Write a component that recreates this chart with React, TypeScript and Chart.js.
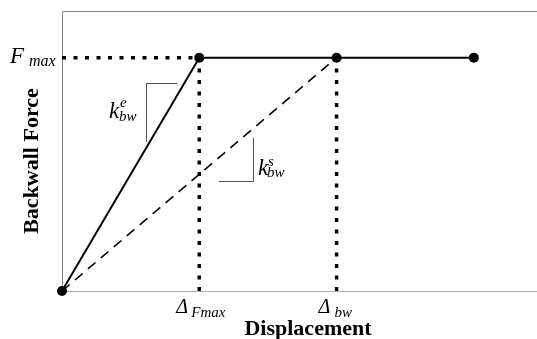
import React, { useEffect, useRef } from "react";
import { Chart, registerables } from "chart.js";

Chart.register(...registerables);

// Data (normalised: displacement in units of Δ_Fmax, force in units of F_max)
const bilinearX = [0, 1, 2, 3];
const bilinearY = [0, 1, 1, 1];
const secantX = [0, 2];
const secantY = [0, 1];
const fmaxGuideX = [0, 1];
const fmaxGuideY = [1, 1];
const dFmaxGuideX = [1, 1];
const dFmaxGuideY = [0, 1];
const dBwGuideX = [2, 2];
const dBwGuideY = [0, 1];

const xAxisTitle = "Displacement";
const yAxisTitle = "Backwall Force";

const toPts = (xs: number[], ys: number[]) => xs.map((x, i) => ({ x, y: ys[i] }));

const SERIF = '"Liberation Serif", "Times New Roman", serif';

const decorPlugin = {
  id: "decor",
  beforeDatasetsDraw(chart: any) {
    const { ctx, chartArea } = chart;
    ctx.save();
    ctx.lineWidth = 1;
    ctx.strokeStyle = "#8a8a8a";
    ctx.beginPath();
    ctx.moveTo(chartArea.left + 0.5, chartArea.bottom);
    ctx.lineTo(chartArea.left + 0.5, chartArea.top + 0.5);
    ctx.lineTo(chartArea.right, chartArea.top + 0.5);
    ctx.stroke();
    ctx.strokeStyle = "#b0b0b0";
    ctx.beginPath();
    ctx.moveTo(chartArea.left, chartArea.bottom + 0.5);
    ctx.lineTo(chartArea.right, chartArea.bottom + 0.5);
    ctx.stroke();
    ctx.restore();
  },
  afterDatasetsDraw(chart: any) {
    const { ctx, chartArea } = chart;
    const xs = chart.scales.x;
    const ys = chart.scales.y;
    const px = (v: number) => xs.getPixelForValue(v);
    const py = (v: number) => ys.getPixelForValue(v);
    ctx.save();
    // slope triangles
    ctx.strokeStyle = "#505050";
    ctx.lineWidth = 1;
    ctx.beginPath();
    ctx.moveTo(Math.round(px(0.612)) + 0.5, Math.round(py(0.64)));
    ctx.lineTo(Math.round(px(0.612)) + 0.5, Math.round(py(0.89)) + 0.5);
    ctx.lineTo(px(0.838), Math.round(py(0.89)) + 0.5);
    ctx.stroke();
    ctx.beginPath();
    ctx.moveTo(Math.round(px(1.391)) + 0.5, Math.round(py(0.656)));
    ctx.lineTo(Math.round(px(1.391)) + 0.5, Math.round(py(0.471)) + 0.5);
    ctx.lineTo(px(1.143), Math.round(py(0.471)) + 0.5);
    ctx.stroke();

    ctx.fillStyle = "#000";
    ctx.textBaseline = "alphabetic";
    ctx.textAlign = "left";
    const it = (size: number) => `italic ${size}px ${SERIF}`;

    // F_max
    const yF = py(1);
    ctx.font = it(23);
    ctx.fillText("F", 10, yF + 5);
    ctx.font = it(16);
    ctx.fillText("max", 29, yF + 8);

    // k_bw^e
    const kex = px(0.612) - 37;
    const key = py(0.64) - 24;
    ctx.font = it(23);
    ctx.fillText("k", kex, key);
    ctx.font = it(15);
    ctx.fillText("e", kex + 11, key - 11);
    ctx.fillText("bw", kex + 10, key + 3);

    // k_bw^s
    const ksx = px(1.391) + 5;
    const ksy = py(0.471) - 6;
    ctx.font = it(23);
    ctx.fillText("k", ksx, ksy);
    ctx.font = it(15);
    ctx.fillText("s", ksx + 10, ksy - 9);
    ctx.fillText("bw", ksx + 9, ksy + 2);

    // Δ labels
    const base = chartArea.bottom;
    ctx.font = it(20);
    ctx.textAlign = "left";
    ctx.fillText("Δ", px(1) - 23, base + 22);
    ctx.font = it(15);
    ctx.fillText("Fmax", px(1) - 8, base + 26);
    ctx.font = it(20);
    ctx.fillText("Δ", px(2) - 18, base + 22);
    ctx.font = it(15);
    ctx.fillText("bw", px(2) - 2, base + 26);

    // axis titles
    ctx.font = `bold 22px ${SERIF}`;
    ctx.textAlign = "center";
    ctx.textBaseline = "middle";
    ctx.fillText(xAxisTitle, 308, chartArea.bottom + 38);
    ctx.save();
    ctx.translate(32, 161);
    ctx.rotate(-Math.PI / 2);
    ctx.fillText(yAxisTitle, 0, 0);
    ctx.restore();
    ctx.restore();
  },
};

export default function App() {
  const ref = useRef<HTMLCanvasElement | null>(null);
  useEffect(() => {
    if (!ref.current) return;
    const dotted = {
      borderColor: "#000",
      borderWidth: 3.5,
      borderDash: [4, 7.5],
      borderCapStyle: "butt",
      pointRadius: 0,
      showLine: true,
      clip: false,
      fill: false,
    };
    const chart = new Chart(ref.current, {
      type: "scatter",
      data: {
        datasets: [
          { ...dotted, data: toPts(fmaxGuideX, fmaxGuideY) } as any,
          { ...dotted, data: toPts(dFmaxGuideX, dFmaxGuideY) } as any,
          { ...dotted, data: toPts(dBwGuideX, dBwGuideY) } as any,
          {
            data: toPts(secantX, secantY),
            showLine: true,
            borderColor: "#000",
            borderWidth: 1.6,
            borderDash: [10, 7],
            pointRadius: 0,
            clip: false,
          } as any,
          {
            data: toPts(bilinearX, bilinearY),
            showLine: true,
            borderColor: "#000",
            borderWidth: 2,
            pointRadius: 5,
            pointBackgroundColor: "#000",
            pointBorderColor: "#000",
            pointBorderWidth: 0,
            clip: false,
          } as any,
        ],
      },
      options: {
        animation: false,
        responsive: false,
        devicePixelRatio: 1,
        layout: { autoPadding: false, padding: { left: 62, top: 11, right: 0, bottom: 48 } },
        plugins: { legend: { display: false }, tooltip: { enabled: false } },
        events: [],
        scales: {
          x: { type: "linear", display: false, min: 0, max: 3.46 },
          y: { type: "linear", display: false, min: 0, max: 1.2 },
        },
      },
      plugins: [decorPlugin],
    });
    return () => chart.destroy();
  }, []);
  return (
    <div style={{ position: "fixed", left: 0, top: 0, width: 537, height: 339, background: "#fff" }}>
      <canvas ref={ref} width={537} height={339} style={{ display: "block", width: 537, height: 339 }} />
    </div>
  );
}
